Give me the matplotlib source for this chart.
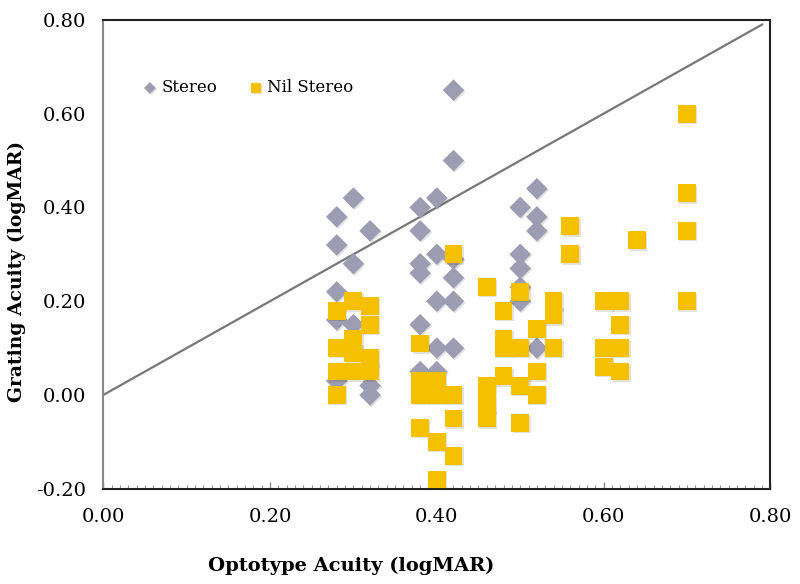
import matplotlib
matplotlib.use("Agg")
import matplotlib.pyplot as plt
import matplotlib.patheffects as pe
from matplotlib.ticker import MultipleLocator, FormatStrFormatter

# Stereo (grey diamonds)
stereo_x = [0.28, 0.28, 0.28, 0.28, 0.28,
            0.30, 0.30, 0.30,
            0.32, 0.32, 0.32,
            0.38, 0.38, 0.38, 0.38, 0.38, 0.38,
            0.40, 0.40, 0.40, 0.40, 0.40,
            0.42, 0.42, 0.42, 0.42, 0.42, 0.42,
            0.50, 0.50, 0.50, 0.50, 0.50,
            0.52, 0.52, 0.52, 0.52]
stereo_y = [0.38, 0.32, 0.22, 0.16, 0.03,
            0.42, 0.28, 0.15,
            0.35, 0.02, 0.00,
            0.40, 0.35, 0.28, 0.26, 0.15, 0.05,
            0.42, 0.30, 0.20, 0.10, 0.05,
            0.65, 0.50, 0.29, 0.25, 0.20, 0.10,
            0.40, 0.30, 0.27, 0.23, 0.20,
            0.44, 0.38, 0.35, 0.10]

# Nil stereo (yellow squares)
nil_x = [0.28, 0.28, 0.28, 0.28,
         0.30, 0.30, 0.30, 0.30,
         0.32, 0.32, 0.32, 0.32,
         0.38, 0.38, 0.38, 0.38,
         0.40, 0.40, 0.40, 0.40,
         0.42, 0.42, 0.42, 0.42,
         0.46, 0.46, 0.46, 0.46,
         0.48, 0.48, 0.48, 0.48,
         0.50, 0.50, 0.50, 0.50,
         0.52, 0.52, 0.52,
         0.54, 0.54, 0.54,
         0.56, 0.56,
         0.60, 0.60, 0.60,
         0.62, 0.62, 0.62, 0.62,
         0.64,
         0.70, 0.70, 0.70, 0.70]
nil_y = [0.18, 0.10, 0.05, 0.00,
         0.20, 0.12, 0.09, 0.05,
         0.19, 0.15, 0.08, 0.05,
         0.11, 0.03, 0.00, -0.07,
         0.03, 0.00, -0.10, -0.18,
         0.30, 0.00, -0.05, -0.13,
         0.23, 0.02, -0.02, -0.05,
         0.18, 0.12, 0.10, 0.04,
         0.22, 0.10, 0.02, -0.06,
         0.14, 0.05, 0.00,
         0.20, 0.17, 0.10,
         0.36, 0.30,
         0.20, 0.10, 0.06,
         0.20, 0.15, 0.10, 0.05,
         0.33,
         0.60, 0.43, 0.35, 0.20]

ticks = [0.0, 0.2, 0.4, 0.6, 0.8]
yticks = [-0.2, 0.0, 0.2, 0.4, 0.6, 0.8]

plt.rcParams["font.family"] = ["DejaVu Serif"]

fig = plt.figure(figsize=(8, 5.84), dpi=100)
ax = fig.add_axes([0.129, 0.163, 0.834, 0.803])

shadow = [pe.SimplePatchShadow(offset=(1.0, -1.0), alpha=0.15), pe.Normal()]

ax.plot([0, 0.79], [0, 0.79], color="#777777", lw=1.6, zorder=1)
s1 = ax.scatter(stereo_x, stereo_y, marker="D", s=120, color="#9c9cb2",
                linewidths=0, label="Stereo", zorder=2)
s2 = ax.scatter(nil_x, nil_y, marker="s", s=165, color="#f5c000",
                linewidths=0, label="Nil Stereo", zorder=3)
s1.set_path_effects(shadow)
s2.set_path_effects(shadow)

ax.set_xlim(0, 0.8)
ax.set_ylim(-0.2, 0.8)
ax.set_xticks(ticks)
ax.set_yticks(yticks)
ax.xaxis.set_minor_locator(MultipleLocator(0.01))
ax.xaxis.set_major_formatter(FormatStrFormatter("%.2f"))
ax.yaxis.set_major_formatter(FormatStrFormatter("%.2f"))
ax.tick_params(axis="x", which="major", direction="in", length=5, width=1,
               color="#888888", labelsize=14, pad=14)
ax.tick_params(axis="x", which="minor", direction="in", length=3, width=0.8,
               color="#999999")
ax.tick_params(axis="y", length=0, labelsize=14, pad=12)

for side in ["top", "right", "bottom"]:
    ax.spines[side].set_color("#222222")
    ax.spines[side].set_linewidth(1.5)
ax.spines["left"].set_color("#888888")
ax.spines["left"].set_linewidth(1.5)

ax.set_xlabel("Optotype Acuity (logMAR)", fontsize=14, fontweight="bold")
ax.set_ylabel("Grating Acuity (logMAR)", fontsize=13.5, fontweight="bold")
ax.xaxis.set_label_coords(0.372, -0.145)
ax.yaxis.set_label_coords(-0.115, 0.463)

leg = ax.legend(loc="center left", bbox_to_anchor=(0.05, 0.855), ncol=2,
                frameon=False, fontsize=12, handletextpad=0.3,
                columnspacing=1.9, markerscale=0.55, borderaxespad=0,
                handlelength=0.8)

fig.savefig("out.png", dpi=100)
